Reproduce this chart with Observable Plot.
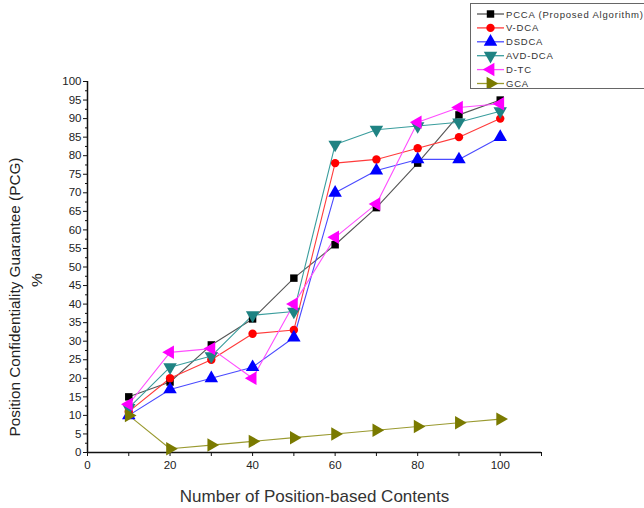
<!DOCTYPE html>
<html>
<head>
<meta charset="utf-8">
<script src="https://cdn.jsdelivr.net/npm/d3@7"></script>
<script src="https://cdn.jsdelivr.net/npm/@observablehq/plot@0.6"></script>
<style>
  body { margin: 0; background: #fff; font-family: "Liberation Sans", Arial, sans-serif; }
  #wrap { position: relative; width: 644px; height: 508px; overflow: hidden; }
  #chart { position: absolute; left: 0; top: 0; }
  #legend { position: absolute; left: 470px; top: 3px; width: 190px; height: 84px; border: 1px solid #666; background: #fff; }
</style>
</head>
<body>
<div id="wrap">
  <div id="chart"></div>
  <svg id="legend"></svg>
</div>
<script>
const contents = [10, 20, 30, 40, 50, 60, 70, 80, 90, 100];
const seriesNames = ["PCCA (Proposed Algorithm)", "V-DCA", "DSDCA", "AVD-DCA", "D-TC", "GCA"];
const pcca   = [15, 19, 29, 36, 47, 56, 66, 78, 91, 95];
const vdca   = [11, 20, 25, 32, 33, 78, 79, 82, 85, 90];
const dsdca  = [10, 17, 20, 23, 31, 70, 76, 79, 79, 85];
const avddca = [12, 23, 26, 37, 38, 83, 87, 88, 89, 92];
const dtc    = [13, 27, 28, 20, 40, 58, 67, 89, 93, 94];
const gca    = [10, 1, 2, 3, 4, 5, 6, 7, 8, 9];
const yTicks = d3.range(0, 101, 5);
const xTicks = [0, 20, 40, 60, 80, 100];

const values = [pcca, vdca, dsdca, avddca, dtc, gca];
const lineColors = ["#555555", "#ff3b3b", "#4a4aff", "#3a9d9d", "#ff4dff", "#9a9a30"];
const markColors = ["#000000", "#ff0000", "#0000ff", "#1f8383", "#ff00ff", "#7a7a00"];

const s3 = Math.sqrt(3);
function tri(dir) {
  return {
    draw(ctx, size) {
      const y = -Math.sqrt(size / (s3 * 3));
      let pts = [[0, y * 2], [-s3 * y, -y], [s3 * y, -y]];
      if (dir === "down") pts = pts.map(([a, b]) => [a, -b]);
      if (dir === "left") pts = pts.map(([a, b]) => [b, a]);
      if (dir === "right") pts = pts.map(([a, b]) => [-b, a]);
      ctx.moveTo(pts[0][0], pts[0][1]);
      ctx.lineTo(pts[1][0], pts[1][1]);
      ctx.lineTo(pts[2][0], pts[2][1]);
      ctx.closePath();
    }
  };
}
const symbols = ["square", "circle", tri("up"), tri("down"), tri("left"), tri("right")];
const radii = [4.2, 4.2, 5, 5, 5, 5];

const data = [];
seriesNames.forEach((name, i) => contents.forEach((c, j) => data.push({ series: name, idx: i, x: c, y: values[i][j] })));

const marks = [
  Plot.axisY({ ticks: d3.range(2.5, 100, 5), tickSize: 2, tickFormat: () => "", stroke: "#111", label: null }),
  Plot.axisY({ ticks: yTicks, tickSize: 4, tickPadding: 2, fontSize: 11.5, stroke: "#111", color: "#222", label: null }),
  Plot.axisX({ ticks: [10, 30, 50, 70, 90, 110], tickSize: 4, tickFormat: () => "", stroke: "#111", label: null }),
  Plot.axisX({ ticks: xTicks, tickSize: 4, tickPadding: 4, fontSize: 11.5, stroke: "#111", color: "#222", label: null }),
  Plot.ruleX([0], { stroke: "#111", strokeWidth: 1.5 }),
  Plot.ruleY([0], { stroke: "#111", strokeWidth: 1.5 }),
  Plot.text(["Position Confidentiality Guarantee (PCG)"], { frameAnchor: "left", textAnchor: "middle", dx: -72, dy: 30, rotate: -90, fontSize: 15.3, fill: "#222" }),
  Plot.text(["%"], { frameAnchor: "left", textAnchor: "middle", dx: -50, dy: 13, rotate: -90, fontSize: 15.5, fill: "#222" }),
  Plot.text(["Number of Position-based Contents"], { frameAnchor: "bottom", textAnchor: "middle", dy: 49, fontSize: 17, fill: "#333", x: () => 55 })
];
seriesNames.forEach((name, i) => {
  const d = data.filter(r => r.idx === i);
  marks.push(Plot.line(d, { x: "x", y: "y", stroke: lineColors[i], strokeWidth: 1.1 }));
});
seriesNames.forEach((name, i) => {
  const d = data.filter(r => r.idx === i);
  marks.push(Plot.dot(d, { x: "x", y: "y", symbol: () => symbols[i], r: radii[i], fill: markColors[i], stroke: "none" }));
});

const chart = Plot.plot({
  width: 644, height: 508,
  marginLeft: 87, marginRight: 103, marginTop: 81, marginBottom: 56,
  style: { fontFamily: "Liberation Sans, Arial, sans-serif", background: "white" },
  x: { domain: [0, 110], label: null },
  y: { domain: [0, 100], label: null },
  symbol: { type: "identity" },
  marks
});
document.getElementById("chart").append(chart);

// legend
const lg = d3.select("#legend");
seriesNames.forEach((name, i) => {
  const y = 10 + i * 13.9;
  lg.append("line").attr("x1", 6).attr("x2", 33).attr("y1", y).attr("y2", y).attr("stroke", lineColors[i]).attr("stroke-width", 1.3);
  const sym = typeof symbols[i] === "string" ? (symbols[i] === "square" ? d3.symbolSquare : d3.symbolCircle) : symbols[i];
  lg.append("path").attr("transform", `translate(19.5,${y})`).attr("d", d3.symbol(sym, Math.PI * radii[i] * radii[i])()).attr("fill", markColors[i]);
  lg.append("text").attr("x", 35).attr("y", y + 3.5).text(name)
    .attr("font-size", 9.5).attr("letter-spacing", 0.8).attr("fill", "#333")
    .attr("font-family", "Liberation Sans, Arial, sans-serif");
});
</script>
</body>
</html>
